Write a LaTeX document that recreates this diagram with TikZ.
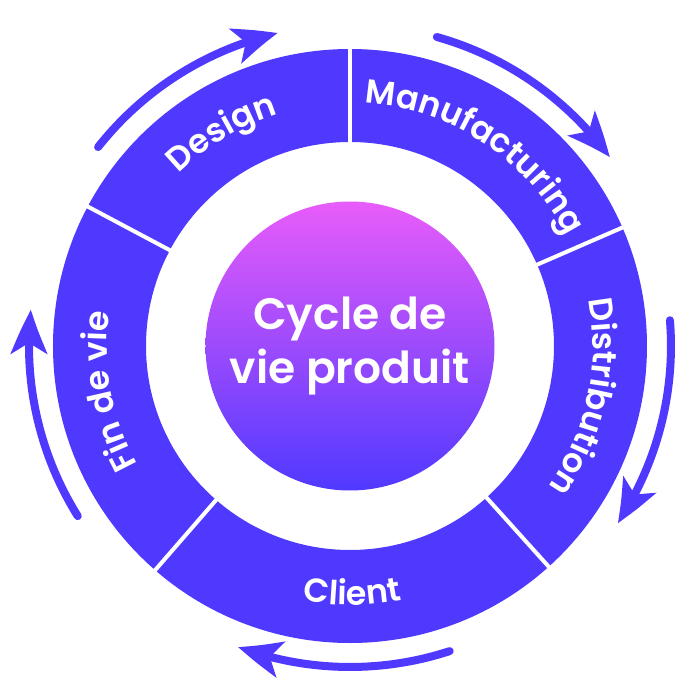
\documentclass[tikz,border=0pt]{standalone}
\usepackage{fontspec}
\usepackage{tikz}
\usetikzlibrary{arrows.meta,bending,decorations.text}
\newfontfamily\popfont{Poppins}[BoldFont={Poppins SemiBold}]
\definecolor{ringblue}{RGB}{80,57,255}
\definecolor{hubpink}{RGB}{232,92,250}
\definecolor{hubmid}{RGB}{145,68,255}
\newcommand{\seglbl}{\popfont\bfseries\fontsize{25}{25}\selectfont}
\tikzset{
  gap/.style={draw=white, line width=3pt},
  cyc/.style={draw=ringblue, line width=6pt, line cap=round,
    -{Stealth[length=33pt,width=27pt,inset=8pt,bend]}},
  lbl/.style={decorate, decoration={text along path, text align=center,
    text color=white, text={|\seglbl|#1}}}
}
\begin{document}
\begin{tikzpicture}[x=0.75pt,y=0.75pt]
\useasboundingbox (-350,-354) rectangle (350,346);

%Shape: Ring
\fill[ringblue, even odd rule] (0,0) circle[radius=297] (0,0) circle[radius=204];
%Straight Lines: segment gaps
\draw[gap] (90:200) -- (90:301);
\draw[gap] (23.5:200) -- (23.5:301);
\draw[gap] (-48:200) -- (-48:301);
\draw[gap] (-131:200) -- (-131:301);
\draw[gap] (152:200) -- (152:301);

% Text Node: hub
\node (hub) [circle, minimum size=216.75pt, inner sep=0pt, top color=hubpink,
  middle color=hubmid, bottom color=ringblue, text=white, align=center,
  font=\popfont\bfseries\fontsize{33}{41}\selectfont] at (0,0) {Cycle de\\vie produit};

% Text along the segments
\path[lbl=Design] (152:243) arc[start angle=152, end angle=90, radius=243];
\path[lbl=Manufacturing] (90:243) arc[start angle=90, end angle=23.5, radius=243];
\path[lbl=Distribution] (23.5:243) arc[start angle=23.5, end angle=-48, radius=243];
\path[lbl=Client] (-131:259) arc[start angle=-131, end angle=-48, radius=259];
\path[lbl=Fin de vie] (229:243) arc[start angle=229, end angle=152, radius=243];

%Curved arrows
\draw[cyc] (141.7:321) arc[start angle=141.7, end angle=103, radius=321];
\draw[cyc] (74.3:321) arc[start angle=74.3, end angle=36, radius=321];
\draw[cyc] (4.6:321) arc[start angle=4.6, end angle=-33.5, radius=321];
\draw[cyc] (-71.9:321) arc[start angle=-71.9, end angle=-110.4, radius=321];
\draw[cyc] (212:321) arc[start angle=212, end angle=173.5, radius=321];

\end{tikzpicture}
\end{document}
